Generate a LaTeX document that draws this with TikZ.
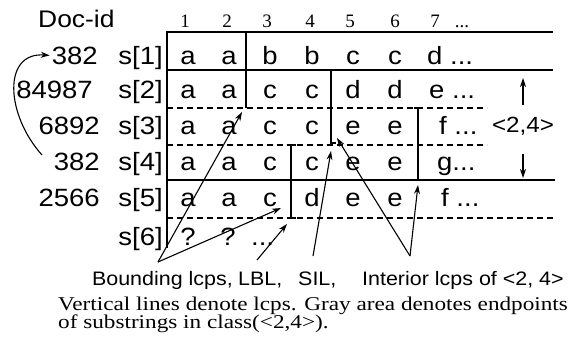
\documentclass[tikz,border=0pt]{standalone}
\usepackage{fontspec}
\setmainfont{Liberation Serif}
\newfontfamily\tabfont[FakeStretch=1.1]{Liberation Sans}
\newfontfamily\capfont[FakeStretch=1.19]{Liberation Serif}
\usetikzlibrary{arrows.meta}
\tikzset{
 tline/.style={line width=1.6pt},
 dline/.style={line width=1.3pt, dash pattern=on 6pt off 4pt},
 lcp/.style={line width=1.4pt},
 arr/.style={line width=1.1pt, -{Stealth[length=9pt,width=6pt]}},
 cell/.style={anchor=base, inner sep=0pt, font=\tabfont\fontsize{25}{30}\selectfont},
 cellw/.style={cell, anchor=base west},
 rowlab/.style={anchor=base east, inner sep=0pt, font=\tabfont\fontsize{25}{30}\selectfont},
 hdr/.style={anchor=base, inner sep=0pt, font=\fontsize{19}{22}\selectfont},
 lab/.style={inner sep=0pt, font=\tabfont\fontsize{19.5}{22}\selectfont},
 captext/.style={anchor=base west, inner sep=0pt, font=\capfont\fontsize{19.5}{22}\selectfont},
}
\begin{document}
\begin{tikzpicture}[x=1pt,y=-1pt]
\path[use as bounding box] (0,0) rectangle (577,343);
% frame
\draw[tline] (553,32) -- (167,32) -- (167,248);
\draw[tline] (167,70) -- (553,70);
\draw[dline] (167,108) -- (487,108);
\draw[dline] (167,145) -- (487,145);
\draw[tline] (167,180) -- (555,180);
\draw[dline] (167,218) -- (555,218);
% lcps
\draw[lcp] (246,32) -- (246,108);
\draw[lcp] (331,70) -- (331,143) -- (336,143);
\draw[lcp] (296,145) -- (291,145) -- (291,218) -- (296,218);
\draw[lcp] (414,108) -- (418,108) -- (418,180);
% header
\node[anchor=base west, inner sep=0pt, font=\tabfont\fontsize{24}{28}\selectfont] (docid) at (38,27) {Doc-id};
\foreach \n/\x in {1/185,2/227,3/267,4/310,5/350,6/395,7/435}
  \node[hdr] (h\n) at (\x,27) {\n};
\node[hdr] (hdots) at (462,27) {...};
% row labels
\foreach \r/\id/\ix/\y in {1/382/98/64, 2/84987/93/98, 3/6892/100/134, 4/382/100/170, 5/2566/100/206}
  \node[rowlab] (id\r) at (\ix,\y) {\id};
\foreach \r/\y in {1/64,2/98,3/134,4/170,5/206,6/245}
  \node[rowlab] (s\r) at (163,\y) {s[\r]};
% cells
\foreach \r/\y/\la/\lb/\lc/\ld/\le/\lf in {1/64/a/a/b/b/c/c, 2/98/a/a/c/c/d/d, 3/134/a/a/c/c/e/e, 4/170/a/a/c/c/e/e, 5/206/a/a/c/d/e/e}{
  \node[cell] (r\r c1) at (188,\y) {\la};
  \node[cell] (r\r c2) at (229,\y) {\lb};
  \node[cell] (r\r c3) at (270,\y) {\lc};
  \node[cell] (r\r c4) at (312,\y) {\ld};
  \node[cell] (r\r c5) at (353,\y) {\le};
  \node[cell] (r\r c6) at (395,\y) {\lf};
}
\node[cellw] (r1c7) at (427,64) {d ...};
\node[cellw] (r2c7) at (429,98) {e ...};
\node[cellw] (r3c7) at (439,134) {f ...};
\node[cellw] (r4c7) at (437,170) {g...};
\node[cellw] (r5c7) at (441,206) {f ...};
\node[cell] (r6c1) at (188,245) {?};
\node[cell] (r6c2) at (228,245) {?};
\node[cellw] (r6c3) at (251,245) {...};
% class marker
\node[anchor=base, inner sep=0pt, font=\tabfont\fontsize{22}{26}\selectfont] (cls) at (523,132) {<2,4>};
\coordinate (upS) at (523,105); \coordinate (upT) at (523,78);
\coordinate (dnS) at (523,154); \coordinate (dnT) at (523,178);
\draw[arr] (upS) -- (upT);
\draw[arr] (dnS) -- (dnT);
% curved arrow
\coordinate (cS) at (42,155);
\draw[arr] (cS) .. controls (6,115) and (2,52) .. ([xshift=-2pt]id1.west);
% bottom labels
\node[lab, anchor=base east] (bl) at (233,285) {Bounding lcps,};
\node[lab, anchor=base west] (lbl) at (238,285) {LBL,};
\node[lab, anchor=base west] (sil) at (298,285) {SIL,};
\node[lab, anchor=base west] (int) at (362,285) {Interior lcps of <2, 4>};
\coordinate (bA) at (158,262);
\coordinate (bT1) at (242,112);
\coordinate (bT2) at (281,208);
\draw[arr] (bA) -- (bT1);
\draw[arr] (bA) -- (bT2);
\coordinate (lS) at (257,260); \coordinate (lT) at (287,224);
\draw[arr] (lS) -- (lT);
\coordinate (sS) at (313,256); \coordinate (sT) at (331,151);
\draw[arr] (sS) -- (sT);
\coordinate (iA) at (410,256);
\coordinate (iT1) at (337,138); \coordinate (iT2) at (418,185);
\draw[arr] (iA) -- (iT1);
\draw[arr] (iA) -- (iT2);
% caption
\node[captext] (cap1) at (58,310) {Vertical lines denote lcps. Gray area denotes endpoints};
\node[captext] (cap2) at (58,328) {of substrings in class(<2,4>).};
\end{tikzpicture}
\end{document}
